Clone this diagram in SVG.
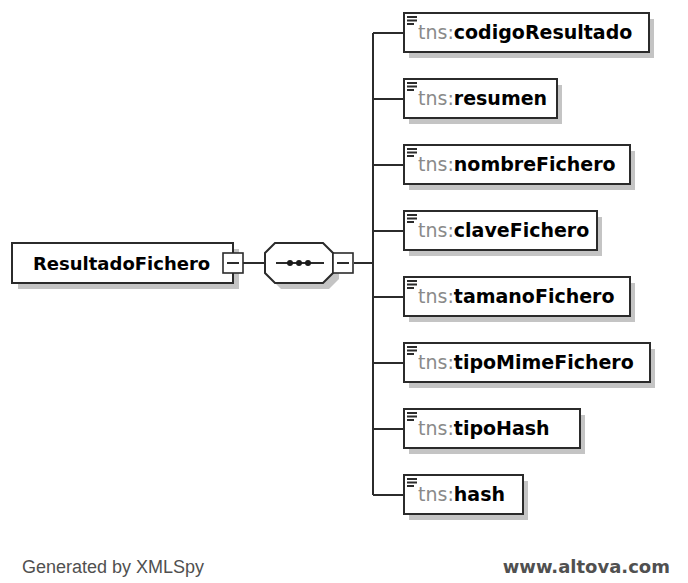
<svg xmlns="http://www.w3.org/2000/svg" width="688" height="583" viewBox="0 0 688 583">
<defs>
<style>
.shadow{fill:#c4c4c4;stroke:none}
.box{fill:#ffffff;stroke:#2b2b2b;stroke-width:2}
.line{fill:none;stroke:#2b2b2b;stroke-width:2}
.btn{fill:#ffffff;stroke:#2b2b2b;stroke-width:1.6}
.icon{fill:#2b2b2b}
.pfx{font-family:"DejaVu Sans",sans-serif;font-size:19px;fill:#8a8a8a}
.nm{font-family:"DejaVu Sans",sans-serif;font-size:19px;font-weight:bold;fill:#000000}
.rnm{font-family:"DejaVu Sans",sans-serif;font-size:18px;font-weight:bold;fill:#000000}
.foot{font-family:"Liberation Sans",Arial,sans-serif;font-size:18px;fill:#505050}
.url{font-family:"DejaVu Sans",sans-serif;font-size:18px;font-weight:bold;fill:#505050}
</style>
<g id="ico"><rect x="0" y="0" width="10" height="2"/><rect x="0" y="3.5" width="10" height="2"/><rect x="0" y="7" width="7" height="2"/></g>
</defs>
<rect width="688" height="583" fill="#ffffff"/>

<g id="connectors">
<path class="line" d="M243 263H265"/>
<path class="line" d="M354 263H373"/>
<path class="line" d="M373 33V495"/>
<path class="line" d="M373 33H404M373 99H404M373 165H404M373 231H404M373 297H404M373 363H404M373 429H404M373 495H404"/>
</g>

<g id="root">
<rect class="shadow" x="18" y="249" width="221" height="40"/>
<rect class="box" x="12" y="243" width="221" height="40"/>
<text class="rnm" x="33" y="270">ResultadoFichero</text>
<rect class="btn" x="223" y="253" width="20" height="20"/>
<path class="line" d="M227 263H239" stroke-width="1.6"/>
</g>

<g id="sequence">
<path class="shadow" d="M281 249H329L339 259V279L329 289H281L271 279V259Z"/>
<path class="box" d="M275 243H323L333 253V273L323 283H275L265 273V253Z"/>
<path class="line" d="M276 263H324"/>
<circle cx="290" cy="263" r="3" fill="#1a1a1a"/>
<circle cx="299" cy="263" r="3" fill="#1a1a1a"/>
<circle cx="308" cy="263" r="3" fill="#1a1a1a"/>
<rect class="btn" x="333" y="253" width="20" height="20"/>
<path class="line" d="M337 263H349" stroke-width="1.6"/>
</g>

<g id="codigoResultado">
<rect class="shadow" x="409" y="19" width="245" height="39"/>
<rect class="box" x="404" y="13" width="245" height="39"/>
<use href="#ico" class="icon" x="407" y="16"/>
<text x="418" y="39"><tspan class="pfx">tns:</tspan><tspan class="nm">codigoResultado</tspan></text>
</g>

<g id="resumen">
<rect class="shadow" x="409" y="85" width="153" height="39"/>
<rect class="box" x="404" y="79" width="153" height="39"/>
<use href="#ico" class="icon" x="407" y="82"/>
<text x="418" y="105"><tspan class="pfx">tns:</tspan><tspan class="nm">resumen</tspan></text>
</g>

<g id="nombreFichero">
<rect class="shadow" x="409" y="151" width="226" height="39"/>
<rect class="box" x="404" y="145" width="226" height="39"/>
<use href="#ico" class="icon" x="407" y="148"/>
<text x="418" y="171"><tspan class="pfx">tns:</tspan><tspan class="nm">nombreFichero</tspan></text>
</g>

<g id="claveFichero">
<rect class="shadow" x="409" y="217" width="193" height="39"/>
<rect class="box" x="404" y="211" width="193" height="39"/>
<use href="#ico" class="icon" x="407" y="214"/>
<text x="418" y="237"><tspan class="pfx">tns:</tspan><tspan class="nm">claveFichero</tspan></text>
</g>

<g id="tamanoFichero">
<rect class="shadow" x="409" y="283" width="226" height="39"/>
<rect class="box" x="404" y="277" width="226" height="39"/>
<use href="#ico" class="icon" x="407" y="280"/>
<text x="418" y="303"><tspan class="pfx">tns:</tspan><tspan class="nm">tamanoFichero</tspan></text>
</g>

<g id="tipoMimeFichero">
<rect class="shadow" x="409" y="349" width="246" height="39"/>
<rect class="box" x="404" y="343" width="246" height="39"/>
<use href="#ico" class="icon" x="407" y="346"/>
<text x="418" y="369"><tspan class="pfx">tns:</tspan><tspan class="nm">tipoMimeFichero</tspan></text>
</g>

<g id="tipoHash">
<rect class="shadow" x="409" y="415" width="176" height="39"/>
<rect class="box" x="404" y="409" width="176" height="39"/>
<use href="#ico" class="icon" x="407" y="412"/>
<text x="418" y="435"><tspan class="pfx">tns:</tspan><tspan class="nm">tipoHash</tspan></text>
</g>

<g id="hash">
<rect class="shadow" x="409" y="481" width="119" height="39"/>
<rect class="box" x="404" y="475" width="119" height="39"/>
<use href="#ico" class="icon" x="407" y="478"/>
<text x="418" y="501"><tspan class="pfx">tns:</tspan><tspan class="nm">hash</tspan></text>
</g>

<g id="footer">
<text class="foot" x="22" y="573">Generated by XMLSpy</text>
<text class="url" x="670" y="573" text-anchor="end">www.altova.com</text>
</g>
</svg>
